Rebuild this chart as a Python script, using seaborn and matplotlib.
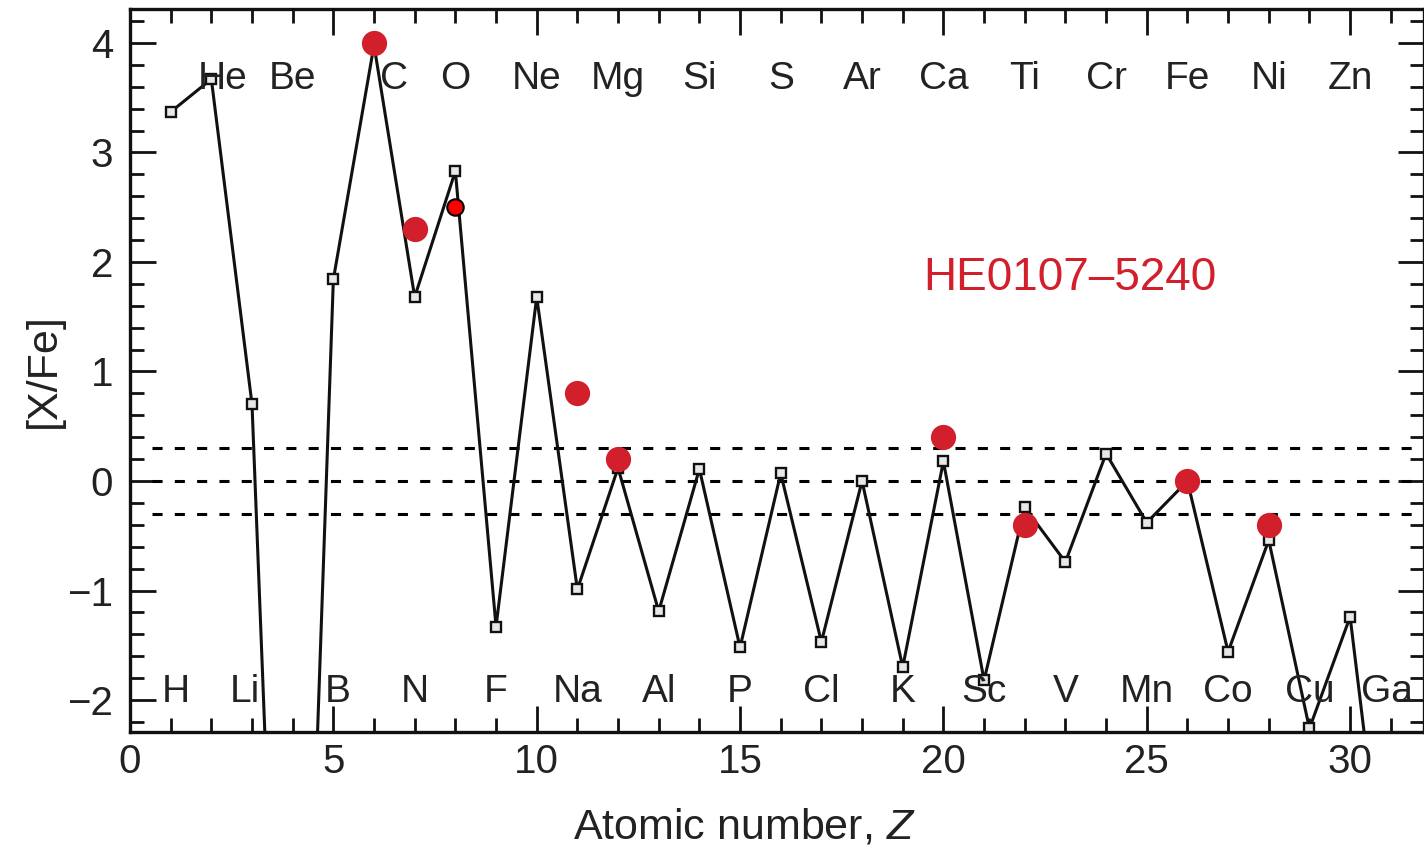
import numpy as np
import pandas as pd
import matplotlib
matplotlib.use("Agg")
import matplotlib.pyplot as plt
from matplotlib.ticker import MultipleLocator
import seaborn as sns

# ---------------- data ----------------
symbols = ["H", "He", "Li", "Be", "B", "C", "N", "O", "F", "Ne", "Na", "Mg", "Al", "Si",
           "P", "S", "Cl", "Ar", "K", "Ca", "Sc", "Ti", "V", "Cr", "Mn", "Fe", "Co", "Ni",
           "Cu", "Zn", "Ga"]
atomic_number = list(range(1, 32))
model_xfe = [3.37, 3.67, 0.70, -8.8, 1.84, 3.98, 1.68, 2.83, -1.33, 1.68, -0.99, 0.12,
             -1.19, 0.11, -1.52, 0.07, -1.47, 0.00, -1.70, 0.18, -1.82, -0.24, -0.74,
             0.25, -0.38, 0.00, -1.56, -0.54, -2.26, -1.24, -4.3]

obs_z = [6, 7, 11, 12, 20, 22, 26, 28]
obs_xfe = [4.0, 2.3, 0.8, 0.2, 0.4, -0.4, 0.0, -0.4]
obs_o_z = [8]
obs_o_xfe = [2.5]

ref_levels = [0.3, 0.0, -0.3]
star_name = "HE0107\u20135240"

# label nudges (in Z units) for a few crowded element symbols
label_nudge = {"He": 0.27, "C": 0.5, "H": 0.13, "Li": -0.17, "B": 0.1, "Ga": -0.1}

# ---------------- style ----------------
sns.set_style("ticks")
plt.rcParams["font.family"] = ["Liberation Sans", "DejaVu Sans"]
plt.rcParams["mathtext.fontset"] = "custom"
plt.rcParams["mathtext.it"] = "Liberation Sans:italic"
plt.rcParams["mathtext.rm"] = "Liberation Sans"

RED = "#d21f2c"
TXT = "#222222"

fig = plt.figure(figsize=(14.24, 8.49), dpi=100)
ax = fig.add_axes([130 / 1424, 1 - 732 / 849, 1 - 130 / 1424, (732 - 9) / 849])

xmax = (1424 - 130) / 40.67
ax.set_xlim(0, xmax)
ax.set_ylim(-2.292, 4.31)

# reference dashed lines
for lv in ref_levels:
    ax.hlines(lv, 0.55, xmax, colors="black", linewidth=2.2,
              linestyles=(0, (3.3, 4.0)), zorder=1)

df_model = pd.DataFrame({"Z": atomic_number, "xfe": model_xfe})
sns.lineplot(data=df_model, x="Z", y="xfe", ax=ax, color="#111111", linewidth=2.2,
             marker="s", markersize=7, markerfacecolor="#e8e8e8",
             markeredgecolor="#111111", markeredgewidth=1.7, zorder=2)

df_obs = pd.DataFrame({"Z": obs_z, "xfe": obs_xfe})
sns.scatterplot(data=df_obs, x="Z", y="xfe", ax=ax, color=RED, s=330,
                linewidth=0, zorder=3)
df_o = pd.DataFrame({"Z": obs_o_z, "xfe": obs_o_xfe})
sns.scatterplot(data=df_o, x="Z", y="xfe", ax=ax, color="#ff0000", s=140,
                edgecolor="black", linewidth=1.5, zorder=4)

# element symbols
for z, sym in zip(atomic_number, symbols):
    xpos = z + label_nudge.get(sym, 0.0)
    ypos = 3.58 if z % 2 == 0 else -2.02
    ax.text(xpos, ypos, sym, ha="center", va="baseline", fontsize=28,
            color=TXT, zorder=5, clip_on=False)

ax.text(19.5, 1.745, star_name, ha="left", va="baseline", fontsize=33,
        color=RED, zorder=5)

# axes formatting
ax.xaxis.set_major_locator(MultipleLocator(5))
ax.xaxis.set_minor_locator(MultipleLocator(1))
ax.yaxis.set_major_locator(MultipleLocator(1))
ax.yaxis.set_minor_locator(MultipleLocator(0.2))
ax.tick_params(which="both", direction="in", top=True, right=True,
               color="#111111", width=2.0)
ax.tick_params(which="major", length=19, labelsize=29, labelcolor=TXT)
ax.tick_params(which="minor", length=10)
ax.tick_params(axis="y", which="major", pad=12)
ax.tick_params(axis="x", which="major", pad=8)
for sp in ax.spines.values():
    sp.set_linewidth(2.4)
    sp.set_color("#111111")

ax.set_xlabel("Atomic number, $\\mathit{Z}$", fontsize=31, color=TXT)
ax.xaxis.set_label_coords((744 - 130) / (1424 - 130), -0.105)
ax.set_ylabel("[X/Fe]", fontsize=31, color=TXT)
ax.yaxis.set_label_coords((64 - 130) / (1424 - 130), 0.5)

fig.savefig("out.png", dpi=100)
